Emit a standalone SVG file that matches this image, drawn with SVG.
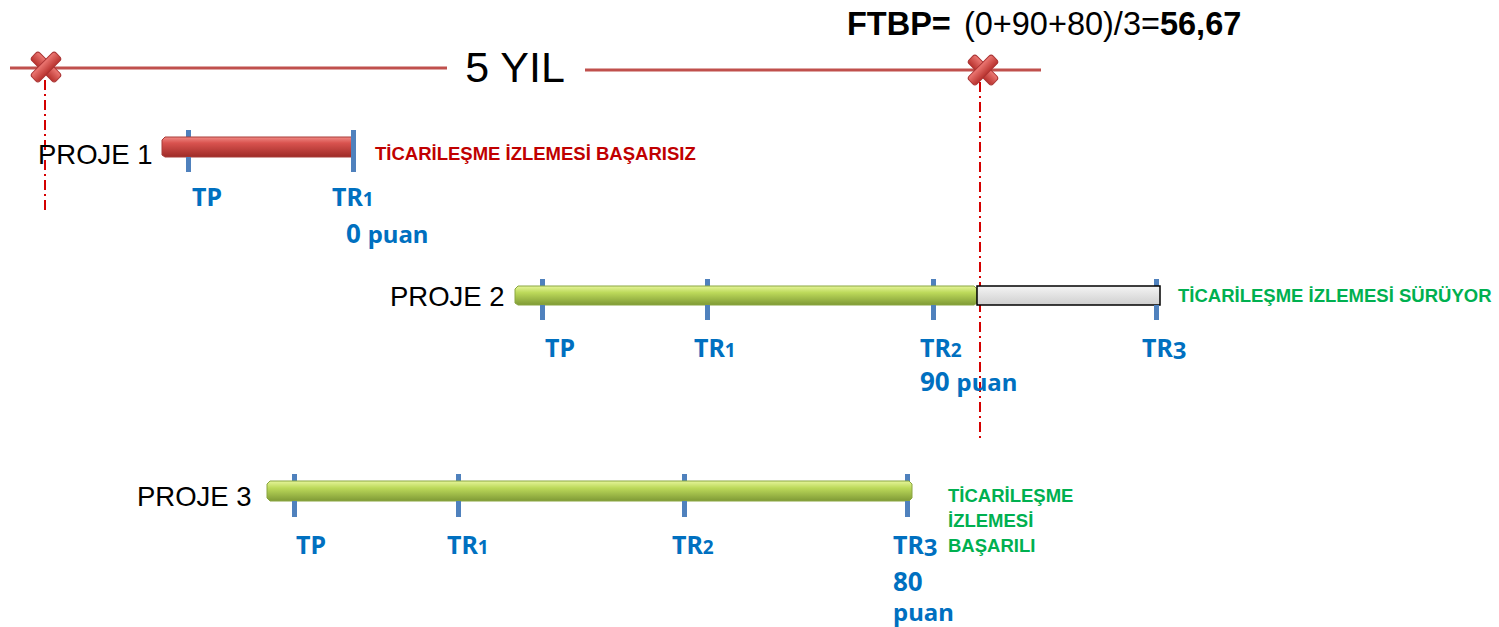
<svg xmlns="http://www.w3.org/2000/svg" width="1499" height="627" viewBox="0 0 1499 627">
<defs>
<linearGradient id="gRed" x1="0" y1="0" x2="0" y2="1">
<stop offset="0" stop-color="#f08a85"/>
<stop offset="0.3" stop-color="#d9534f"/>
<stop offset="1" stop-color="#9e2b27"/>
</linearGradient>
<linearGradient id="gGreen" x1="0" y1="0" x2="0" y2="1">
<stop offset="0" stop-color="#e6f59a"/>
<stop offset="0.35" stop-color="#bcd95a"/>
<stop offset="1" stop-color="#7f9a36"/>
</linearGradient>
<linearGradient id="gGrey" x1="0" y1="0" x2="0" y2="1">
<stop offset="0" stop-color="#f4f4f4"/>
<stop offset="1" stop-color="#cfcfcf"/>
</linearGradient>
<linearGradient id="gX" x1="0" y1="0" x2="0" y2="1">
<stop offset="0" stop-color="#ee7a75"/>
<stop offset="1" stop-color="#b8322e"/>
</linearGradient>
<g id="xmark">
<rect x="-17" y="-5.5" width="34" height="11" rx="3" fill="url(#gX)" stroke="#a33" stroke-width="1" transform="rotate(45)"/>
<rect x="-17" y="-5.5" width="34" height="11" rx="3" fill="url(#gX)" stroke="#a33" stroke-width="1" transform="rotate(-45)"/>
</g>
</defs>
<style>
.tl{stroke:#c0504d;stroke-width:3;fill:none}
.dd{stroke:#d40000;stroke-width:2;stroke-dasharray:10,4,2,4;fill:none}
.tick{fill:#4f81bd}
.proj{font-family:"Liberation Sans",Arial,sans-serif;font-size:27.5px;fill:#000}
.lbl{font-family:"Noto Sans","Open Sans",sans-serif;font-weight:bold;font-size:25px;fill:#0070c0}
.lbl .d{font-size:19px}
.pu{font-family:"Noto Sans","Open Sans",sans-serif;font-weight:bold;font-size:26px;fill:#0070c0}
.red{font-family:"Liberation Sans",Arial,sans-serif;font-weight:bold;font-size:18.5px;fill:#c00000}
.grn{font-family:"Liberation Sans",Arial,sans-serif;font-weight:bold;font-size:18.5px;fill:#00b050}
</style>

<g id="timeline">
<line class="tl" x1="10" y1="68" x2="447" y2="68"/>
<line class="tl" x1="585" y1="70" x2="1041" y2="70"/>
<text x="515" y="82" text-anchor="middle" font-family="Liberation Sans, Arial, sans-serif" font-size="43">5 YIL</text>
</g>

<g id="formula">
<text x="847" y="35" font-family="Liberation Sans, Arial, sans-serif" font-size="32.5"><tspan font-weight="bold">FTBP=</tspan> <tspan dx="4">(0+90+80)/3=</tspan><tspan font-weight="bold">56,67</tspan></text>
</g>

<g id="connectors">
<line class="dd" x1="45" y1="80" x2="45" y2="210"/>
<line class="dd" x1="980" y1="82" x2="980" y2="442"/>
</g>

<g id="marker1"><use href="#xmark" x="46" y="67"/></g>
<g id="marker2"><use href="#xmark" x="983" y="70"/></g>

<g id="proje1">
<text class="proj" x="38" y="164">PROJE 1</text>
<rect class="tick" x="186" y="130" width="5" height="42"/>
<path d="M162,140 L165,137 L352,137 L355,140 L355,155 L352,157 L165,157 L162,155 Z" fill="url(#gRed)" stroke="#a83c38" stroke-width="1"/>
<rect class="tick" x="186" y="157" width="5" height="15"/>
<rect class="tick" x="351" y="130" width="5" height="42"/>
<text class="lbl" x="192" y="206">TP</text>
<text class="lbl" x="332" y="206">TR<tspan class="d">1</tspan></text>
<text class="pu" x="346" y="243">0 <tspan font-size="24">puan</tspan></text>
<text class="red" x="375" y="160">TİCARİLEŞME İZLEMESİ BAŞARISIZ</text>
</g>

<g id="proje2">
<text class="proj" x="390" y="306">PROJE 2</text>
<rect class="tick" x="540" y="279" width="5" height="41"/>
<rect class="tick" x="705" y="279" width="5" height="41"/>
<rect class="tick" x="931" y="279" width="5" height="41"/>
<rect class="tick" x="1154" y="279" width="5" height="41"/>
<path d="M515,289 L518,286 L974,286 L977,289 L977,303 L974,305 L518,305 L515,303 Z" fill="url(#gGreen)" stroke="#8aa640" stroke-width="1"/>
<rect x="977" y="286" width="183" height="19" fill="url(#gGrey)" stroke="#000" stroke-width="1.5"/>
<rect class="tick" x="540" y="305" width="5" height="15"/>
<rect class="tick" x="705" y="305" width="5" height="15"/>
<rect class="tick" x="931" y="305" width="5" height="15"/>
<rect class="tick" x="1154" y="305" width="5" height="15"/>
<text class="lbl" x="545" y="357">TP</text>
<text class="lbl" x="694" y="357">TR<tspan class="d">1</tspan></text>
<text class="lbl" x="920" y="357">TR<tspan class="d">2</tspan></text>
<text class="lbl" x="1142" y="357">TR<tspan font-size="24" dy="2">3</tspan></text>
<text class="pu" x="920" y="391">90 <tspan font-size="24">puan</tspan></text>
<text class="grn" x="1178" y="302">TİCARİLEŞME İZLEMESİ SÜRÜYOR</text>
</g>

<g id="proje3">
<text class="proj" x="137" y="506">PROJE 3</text>
<rect class="tick" x="292" y="474" width="5" height="43"/>
<rect class="tick" x="456" y="474" width="5" height="43"/>
<rect class="tick" x="682" y="474" width="5" height="43"/>
<rect class="tick" x="905" y="474" width="5" height="43"/>
<path d="M267,484 L270,481 L909,481 L912,484 L912,498 L909,501 L270,501 L267,498 Z" fill="url(#gGreen)" stroke="#8aa640" stroke-width="1"/>
<rect class="tick" x="292" y="501" width="5" height="16"/>
<rect class="tick" x="456" y="501" width="5" height="16"/>
<rect class="tick" x="682" y="501" width="5" height="16"/>
<rect class="tick" x="905" y="501" width="5" height="16"/>
<text class="lbl" x="296" y="554">TP</text>
<text class="lbl" x="447" y="554">TR<tspan class="d">1</tspan></text>
<text class="lbl" x="672" y="554">TR<tspan class="d">2</tspan></text>
<text class="lbl" x="893" y="554">TR<tspan font-size="24" dy="2">3</tspan></text>
<text class="pu" x="893" y="591">80<tspan x="893" dy="30" font-size="24">puan</tspan></text>
<text class="grn" x="948" y="502">TİCARİLEŞME<tspan x="948" dy="25">İZLEMESİ</tspan><tspan x="948" dy="25">BAŞARILI</tspan></text>
</g>
</svg>
